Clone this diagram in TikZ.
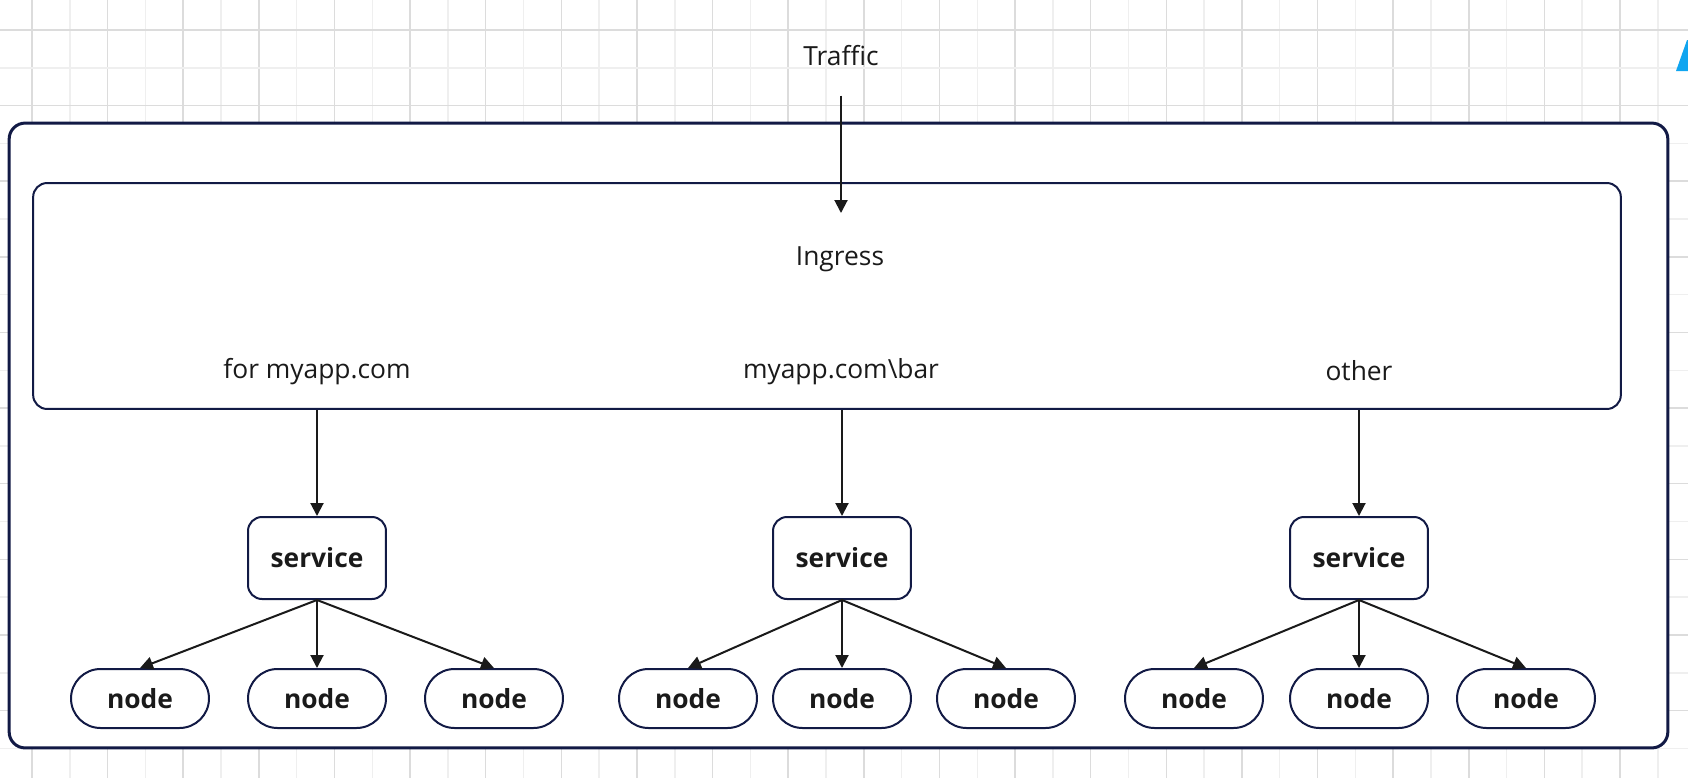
\documentclass[tikz,border=0pt]{standalone}
\usepackage{fontspec}
\setmainfont{Open Sans}
\usepackage{tikz}
\usetikzlibrary{arrows.meta,positioning,shapes.misc}
\definecolor{ink}{HTML}{1A1A1A}
\definecolor{frame}{HTML}{121A45}
\definecolor{griddark}{HTML}{DCDCDC}
\definecolor{gridlight}{HTML}{EFEFEF}
\definecolor{flag}{HTML}{10A5F0}
\newcommand{\labelsize}{\fontsize{15}{18}\selectfont}
\tikzset{
  kouter/.style={draw=frame,fill=white,rounded corners=0.32cm,line width=0.06cm,inner sep=0pt},
  kbox/.style={draw=frame,fill=white,rounded corners=0.28cm,line width=0.04cm,inner sep=0pt},
  ksvc/.style={kbox,minimum width=2.76cm,minimum height=1.64cm,font=\labelsize\bfseries},
  kpod/.style={draw=frame,fill=white,rounded rectangle,line width=0.04cm,minimum width=2.76cm,minimum height=1.18cm,inner sep=0pt,font=\labelsize\bfseries},
  ktext/.style={anchor=base,inner sep=0pt},
  karr/.style={-{Triangle[length=0.26cm,width=0.26cm]},line width=0.04cm,draw=ink}
}

\begin{document}
\begin{tikzpicture}[x=0.02cm,y=-0.02cm,font=\labelsize,text=ink]
  \useasboundingbox (0,0) rectangle (1688,778);
  % canvas grid, 37.81 px pitch
  \foreach \k in {0,...,43} {
    \ifodd\k \def\gc{gridlight}\else\def\gc{griddark}\fi
    \draw[\gc,line width=0.03cm] ({32+37.81*\k},0) -- ({32+37.81*\k},778);
  }
  \foreach \k in {0,...,19} {
    \ifodd\k \def\gc{gridlight}\else\def\gc{griddark}\fi
    \draw[\gc,line width=0.03cm] (0,{30+37.81*\k}) -- (1688,{30+37.81*\k});
  }
  \fill[flag] (1676,71) -- (1688,71) -- (1688,40) -- (1687,40) -- cycle;

  \node[kouter,minimum width=33.18cm,minimum height=12.5cm] (cluster) at (838.5,435.5) {};
  \node[kbox,minimum width=31.76cm,minimum height=4.52cm] (ingress) at (827,296) {};

  \node[ktext] (traffic) at (841,65) {Traffic};
  \node[ktext] (ingtitle) at (840,265) {Ingress};
  \node[ktext] (ruleA) at (317,378) {for myapp.com};
  \node[ktext] (ruleB) at (841,378) {myapp.com\textbackslash bar};
  \node[ktext] (ruleC) at (1359,380) {other};
  \coordinate (entry) at (841,213);

  \node[ksvc] (svcA) at (317,558) {service};
  \node[ksvc] (svcB) at (842,558) {service};
  \node[ksvc] (svcC) at (1359,558) {service};

  \node[kpod] (podA1) at (140,698.5) {node};
  \node[kpod] (podA2) at (317,698.5) {node};
  \node[kpod] (podA3) at (494,698.5) {node};
  \node[kpod] (podB1) at (688,698.5) {node};
  \node[kpod] (podB2) at (842,698.5) {node};
  \node[kpod] (podB3) at (1006,698.5) {node};
  \node[kpod] (podC1) at (1194,698.5) {node};
  \node[kpod] (podC2) at (1359,698.5) {node};
  \node[kpod] (podC3) at (1526,698.5) {node};

  \draw[karr] ([yshift=-0.6cm]traffic.south) -- (entry);
  \foreach \s in {A,B,C} {
    \draw[karr] (ingress.south -| svc\s) -- (svc\s);
    \foreach \p in {1,2,3}
      \draw[karr] (svc\s.south) -- (pod\s\p.north);
  }
\end{tikzpicture}
\end{document}
